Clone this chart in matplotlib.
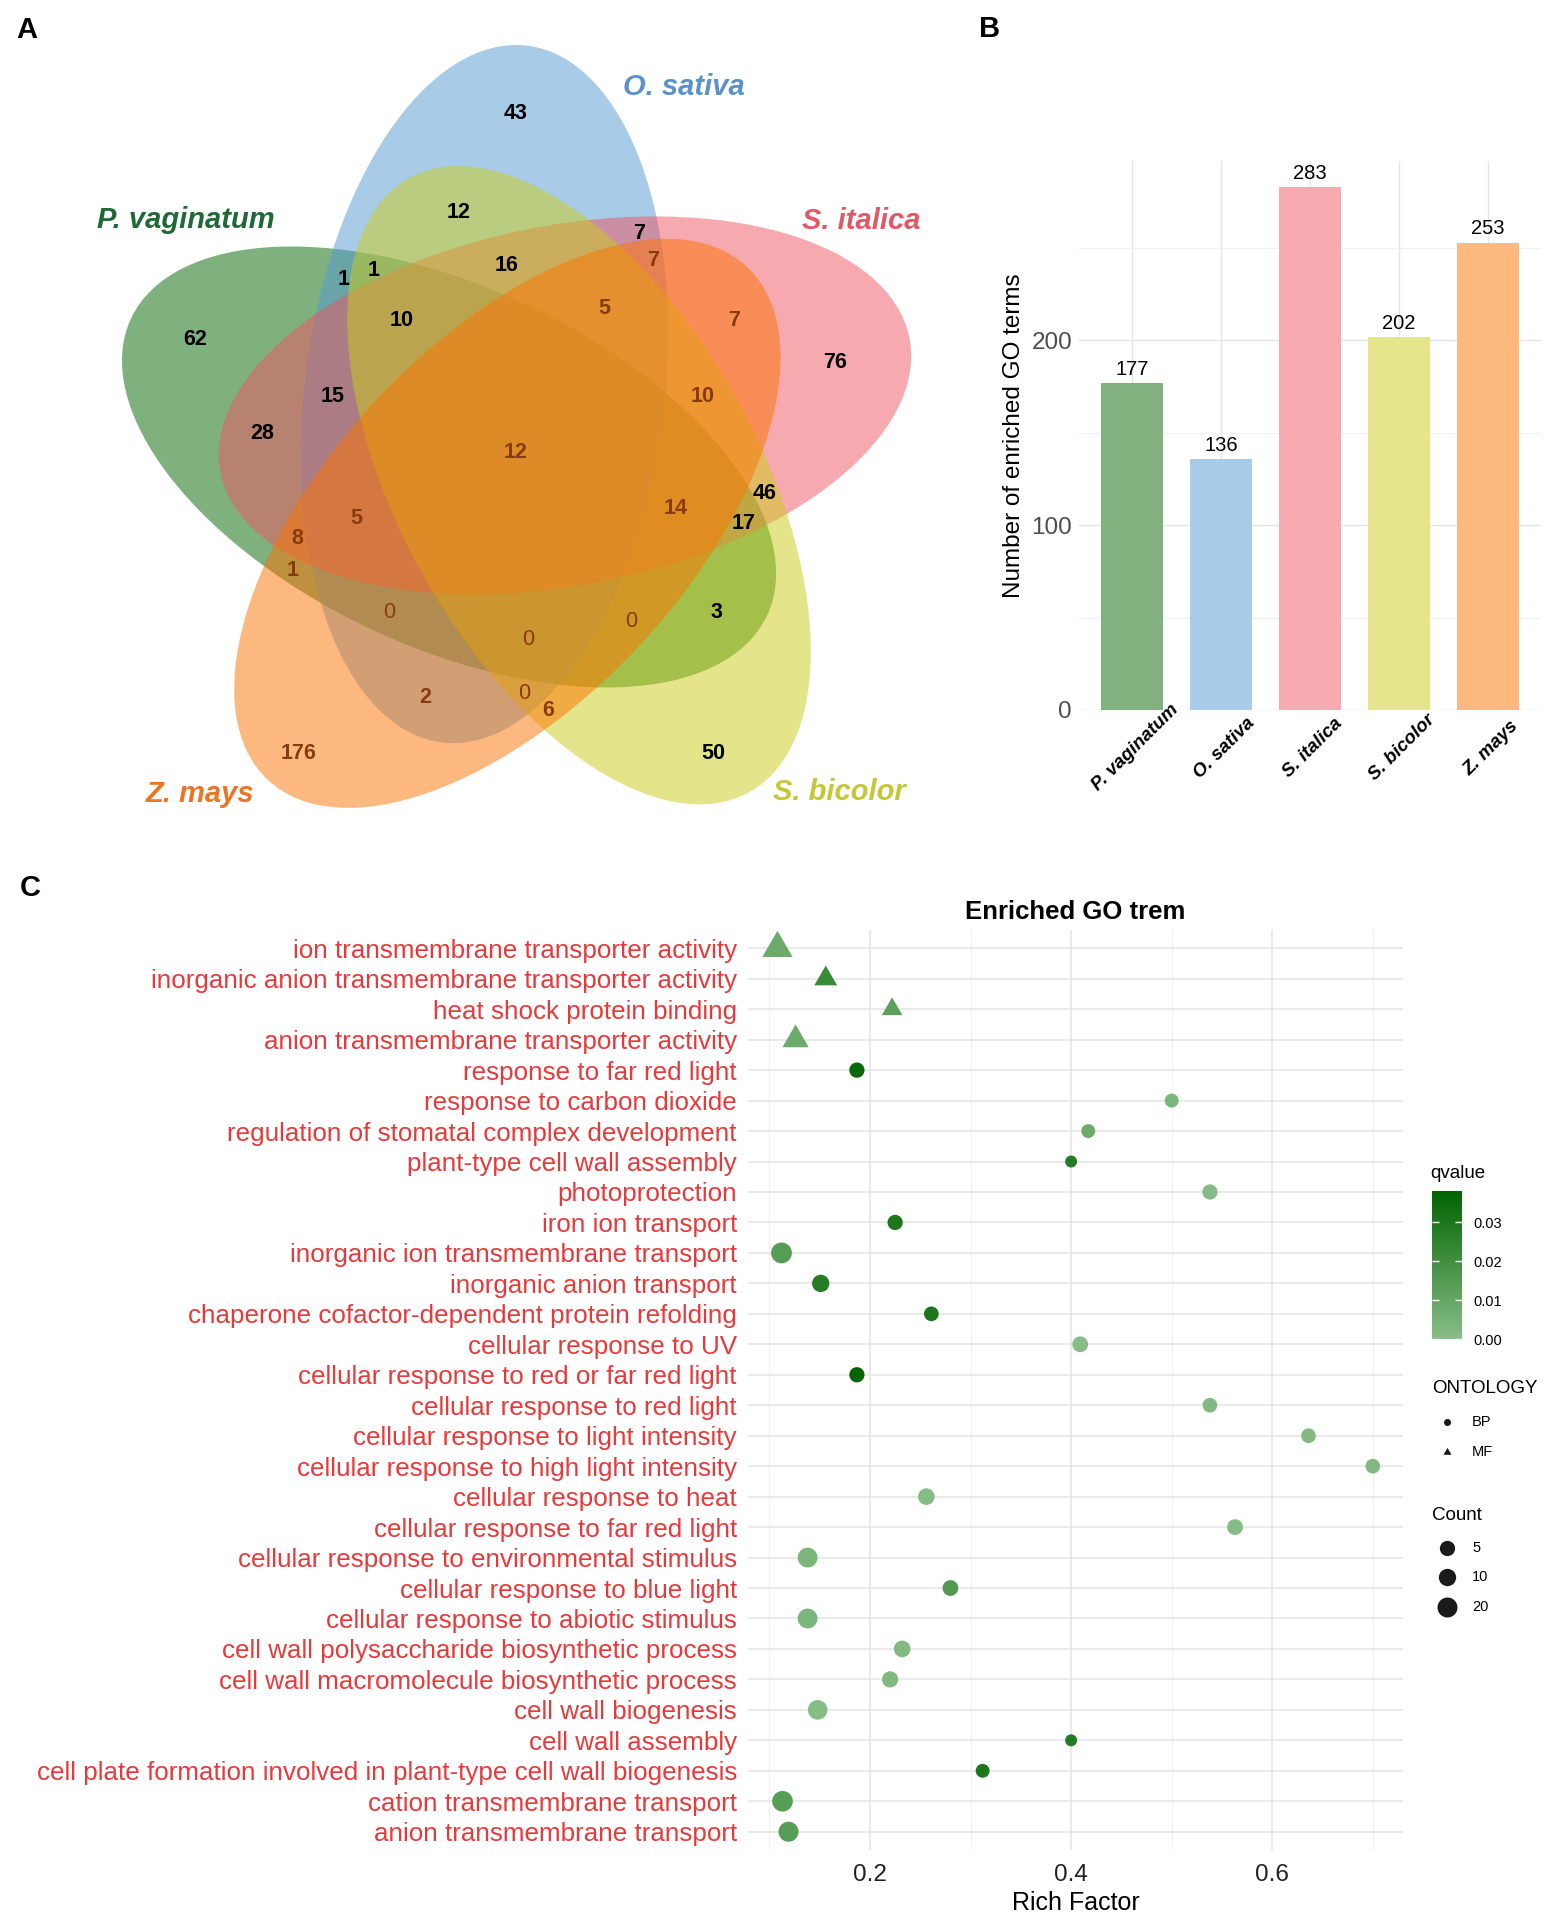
import numpy as np
import matplotlib
matplotlib.use('Agg')
import matplotlib.pyplot as plt
from matplotlib.patches import Ellipse
from matplotlib.path import Path
from matplotlib.colors import LinearSegmentedColormap, Normalize
import matplotlib.colorbar as mcolorbar

plt.rcParams['font.family'] = ['Liberation Sans', 'DejaVu Sans']

W, H = 1562, 1917
PX = 0.72  # points per pixel at dpi 100

# ---------------- data ----------------
species = ['P. vaginatum', 'O. sativa', 'S. italica', 'S. bicolor', 'Z. mays']
go_counts = [177, 136, 283, 202, 253]

# venn region counts
venn_values = [43, 12, 7, 7, 16, 1, 1, 10, 5, 7, 62, 76, 15, 10, 28, 12,
               46, 14, 17, 5, 8, 1, 0, 3, 0, 0, 2, 0, 6, 176, 50]
# region lies inside Z. mays -> brown label
venn_in_zm = [0, 0, 0, 1, 0, 0, 0, 0, 1, 1, 0, 0, 0, 1, 0, 1,
              0, 1, 0, 1, 1, 1, 1, 0, 1, 1, 1, 1, 1, 1, 0]

go_terms = [
    'ion transmembrane transporter activity',
    'inorganic anion transmembrane transporter activity',
    'heat shock protein binding',
    'anion transmembrane transporter activity',
    'response to far red light',
    'response to carbon dioxide',
    'regulation of stomatal complex development',
    'plant-type cell wall assembly',
    'photoprotection',
    'iron ion transport',
    'inorganic ion transmembrane transport',
    'inorganic anion transport',
    'chaperone cofactor-dependent protein refolding',
    'cellular response to UV',
    'cellular response to red or far red light',
    'cellular response to red light',
    'cellular response to light intensity',
    'cellular response to high light intensity',
    'cellular response to heat',
    'cellular response to far red light',
    'cellular response to environmental stimulus',
    'cellular response to blue light',
    'cellular response to abiotic stimulus',
    'cell wall polysaccharide biosynthetic process',
    'cell wall macromolecule biosynthetic process',
    'cell wall biogenesis',
    'cell wall assembly',
    'cell plate formation involved in plant-type cell wall biogenesis',
    'cation transmembrane transport',
    'anion transmembrane transport',
]
rich_factor = [0.108, 0.156, 0.222, 0.126, 0.187, 0.500, 0.417, 0.400, 0.538, 0.225,
               0.112, 0.151, 0.261, 0.409, 0.187, 0.538, 0.636, 0.700, 0.256, 0.563,
               0.138, 0.280, 0.138, 0.232, 0.220, 0.148, 0.400, 0.312, 0.113, 0.119]
qvalue = [0.008, 0.022, 0.013, 0.008, 0.036, 0.004, 0.008, 0.028, 0.0005, 0.030,
          0.014, 0.028, 0.030, 0.0005, 0.038, 0.002, 0.002, 0.002, 0.001, 0.001,
          0.004, 0.015, 0.004, 0.002, 0.002, 0.0005, 0.028, 0.030, 0.014, 0.014]
gene_count = [33, 9, 5, 18, 5, 3, 3, 2, 5, 5,
              24, 10, 4, 6, 5, 4, 4, 4, 8, 6,
              19, 6, 19, 8, 7, 18, 2, 3, 23, 20]
ontology = ['MF'] * 4 + ['BP'] * 26
count_breaks = [5, 10, 20]
q_breaks = [0.00, 0.01, 0.02, 0.03]

# ---------------- style ----------------
fill_cols = ['#006400', '#5399D1', '#EF5561', '#CBCD19', '#FD7300']
bar_cols = ['#80B17F', '#A9CCE8', '#F7AAB0', '#E5E68C', '#FEB97F']
name_cols = ['#1D6A36', '#5B92C8', '#E05A66', '#C4C836', '#EE7424']
brown = '#8A3B0E'
grid_c = '#E4E4E4'

fig = plt.figure(figsize=(W / 100, H / 100), dpi=100)
ov = fig.add_axes([0, 0, 1, 1])
ov.set_xlim(0, W)
ov.set_ylim(0, H)
ov.axis('off')


def Y(y):
    return H - y


# panel letters
for lab, x, y in [('A', 27, 30), ('B', 990, 29), ('C', 30, 888)]:
    ov.text(x, Y(y), lab, fontsize=21, fontweight='bold', ha='center', va='center')

# ---------------- panel A: venn ----------------
cx, cy = 517, 455
off_r = 69
semi_a, semi_b = 351, 180
# centre angle / axis angle for each set (P.vag, O.sat, S.ita, S.bic, Z.may)
ang_c = [190, 118, 46, 334, 262]
ang_ax = [155, 83, 11, 119, 47]
for i in range(5):
    ex = cx + off_r * np.cos(np.radians(ang_c[i]))
    ey = Y(cy) + off_r * np.sin(np.radians(ang_c[i]))
    ov.add_patch(Ellipse((ex, ey), 2 * semi_a, 2 * semi_b, angle=ang_ax[i],
                         facecolor=fill_cols[i], alpha=0.5, edgecolor='none'))

venn_xy = [(516, 113), (459, 212), (639, 233), (653, 260), (507, 265), (344, 279),
           (374, 270), (402, 320), (604, 308), (734, 320), (195, 339), (835, 362),
           (333, 396), (703, 396), (262, 433), (516, 452), (765, 493), (676, 508),
           (744, 523), (356, 518), (297, 538), (293, 570), (389, 612), (716, 612),
           (631, 621), (528, 639), (425, 697), (524, 693), (548, 710), (299, 753),
           (713, 753)]
for v, zm, (x, y) in zip(venn_values, venn_in_zm, venn_xy):
    ov.text(x, Y(y), str(v), fontsize=15.5, ha='center', va='center',
            color=brown if zm else 'black',
            fontweight='normal' if v == 0 else 'bold')

name_xy = [(186, 220), (684, 87), (861, 221), (839, 792), (200, 794)]
for nm, c, (x, y) in zip(species, name_cols, name_xy):
    ov.text(x, Y(y), nm, fontsize=21, fontweight='bold', style='italic',
            color=c, ha='center', va='center')

# ---------------- panel B: bars ----------------
axb = fig.add_axes([1079 / W, 1 - 710 / H, 462 / W, 549 / H])
xs = np.arange(len(species))
axb.bar(xs, go_counts, width=0.7, color=bar_cols, zorder=2)
for x, v in zip(xs, go_counts):
    axb.annotate(str(v), (x, v), xytext=(0, 3), textcoords='offset points',
                 ha='center', va='bottom', fontsize=14.5)
axb.set_xlim(-0.6, 4.6)
axb.set_ylim(0, max(go_counts) * 1.05)
axb.set_yticks([0, 100, 200])
axb.set_yticks([50, 150, 250], minor=True)
axb.set_xticks(xs)
axb.set_xticklabels([])
axb.tick_params(axis='both', which='both', length=0, labelsize=17.5,
                labelcolor='#4D4D4D', pad=5)
axb.grid(True, which='major', color=grid_c, lw=1.0, zorder=0)
axb.grid(True, which='minor', axis='y', color='#F0F0F0', lw=0.8, zorder=0)
for s in axb.spines.values():
    s.set_visible(False)
for x, nm in zip(xs, species):
    axb.annotate(nm, (x, 0), xycoords=('data', 'axes fraction'),
                 xytext=(3 * PX, -38 * PX), textcoords='offset points',
                 rotation=45, ha='center', va='center', fontsize=13.5,
                 fontweight='bold', style='italic')
axb.text(-65 / 462, 0.5, 'Number of enriched GO terms', transform=axb.transAxes,
         rotation=90, ha='center', va='center', fontsize=17.5)

# ---------------- panel C: dot plot ----------------
axc = fig.add_axes([748 / W, 1 - 1850 / H, 655 / W, 920 / H])
n = len(go_terms)
ypos = np.arange(n)[::-1]
cmap = LinearSegmentedColormap.from_list('qg', ['#88BE88', '#006400'])
norm = Normalize(0.0, max(qvalue))
cmin, cmax = min(gene_count), max(gene_count)


def diam(c):
    return 12 + 10.5 * np.sqrt((np.asarray(c, float) - cmin) / (cmax - cmin))


tri = Path([(0, 1), (0.866, -0.5), (-0.866, -0.5), (0, 1)],
           [Path.MOVETO, Path.LINETO, Path.LINETO, Path.CLOSEPOLY])
rf = np.array(rich_factor)
qv = np.array(qvalue)
gc = np.array(gene_count)
ont = np.array(ontology)
bp = ont == 'BP'
mf = ont == 'MF'
axc.scatter(rf[bp], ypos[bp], s=(diam(gc[bp]) * PX) ** 2, c=qv[bp], cmap=cmap,
            norm=norm, marker='o', linewidths=0, zorder=3)
axc.scatter(rf[mf], ypos[mf], s=(1.555 * diam(gc[mf]) * PX) ** 2, c=qv[mf], cmap=cmap,
            norm=norm, marker=tri, linewidths=0, zorder=3)
axc.set_ylim(-0.6, n - 1 + 0.6)
axc.set_xlim(0.0787, 0.730)
axc.set_yticks(ypos)
axc.set_yticklabels(go_terms, color='#E8393A', fontsize=18.7)
axc.set_xticks([0.2, 0.4, 0.6])
axc.set_xticklabels(['0.2', '0.4', '0.6'])
axc.set_xticks([0.1, 0.3, 0.5, 0.7], minor=True)
axc.tick_params(axis='y', length=0, pad=8)
axc.tick_params(axis='x', which='both', length=0, pad=10, labelsize=17.5, labelcolor='#222222')
axc.grid(True, which='major', color=grid_c, lw=1.1, zorder=0)
axc.grid(True, which='minor', axis='x', color='#F0F0F0', lw=0.8, zorder=0)
for s in axc.spines.values():
    s.set_visible(False)
axc.set_xlabel('Rich Factor', fontsize=18, labelpad=4)
axc.set_title('Enriched GO trem', fontsize=18.5, fontweight='bold', pad=8)

# colour bar legend
cax = fig.add_axes([1432 / W, 1 - 1339 / H, 30 / W, 148 / H])
cb = mcolorbar.ColorbarBase(cax, cmap=cmap, norm=norm, orientation='vertical')
cb.outline.set_visible(False)
cb.set_ticks(q_breaks)
cb.set_ticklabels(['%.2f' % q for q in q_breaks])
cax.tick_params(axis='y', direction='in', length=5, width=1, color='white',
                left=True, right=True, labelleft=False, labelright=True,
                labelsize=10.5, pad=8)

ov.text(1430, Y(1173), 'qvalue', fontsize=13.5, ha='left', va='center')
ov.text(1432, Y(1388), 'ONTOLOGY', fontsize=13.5, ha='left', va='center')
ov.text(1432, Y(1515), 'Count', fontsize=13.5, ha='left', va='center')

leg_shapes = ['BP', 'MF']
for k, (lab, y) in enumerate(zip(leg_shapes, [1422, 1452])):
    if lab == 'BP':
        ov.scatter([1447], [Y(y)], s=(7 * PX) ** 2, marker='o', color='#1A1A1A', linewidths=0)
    else:
        ov.scatter([1447], [Y(y)], s=(9.2 * PX) ** 2, marker=tri, color='#1A1A1A', linewidths=0)
    ov.text(1472, Y(y), lab, fontsize=10.5, ha='left', va='center')

for cb_val, y in zip(count_breaks, [1548, 1577, 1607]):
    ov.scatter([1447], [Y(y)], s=(diam(cb_val) * PX) ** 2, marker='o',
               color='#1A1A1A', linewidths=0)
    ov.text(1472, Y(y), str(cb_val), fontsize=10.5, ha='left', va='center')

fig.savefig('out.png', dpi=100)
